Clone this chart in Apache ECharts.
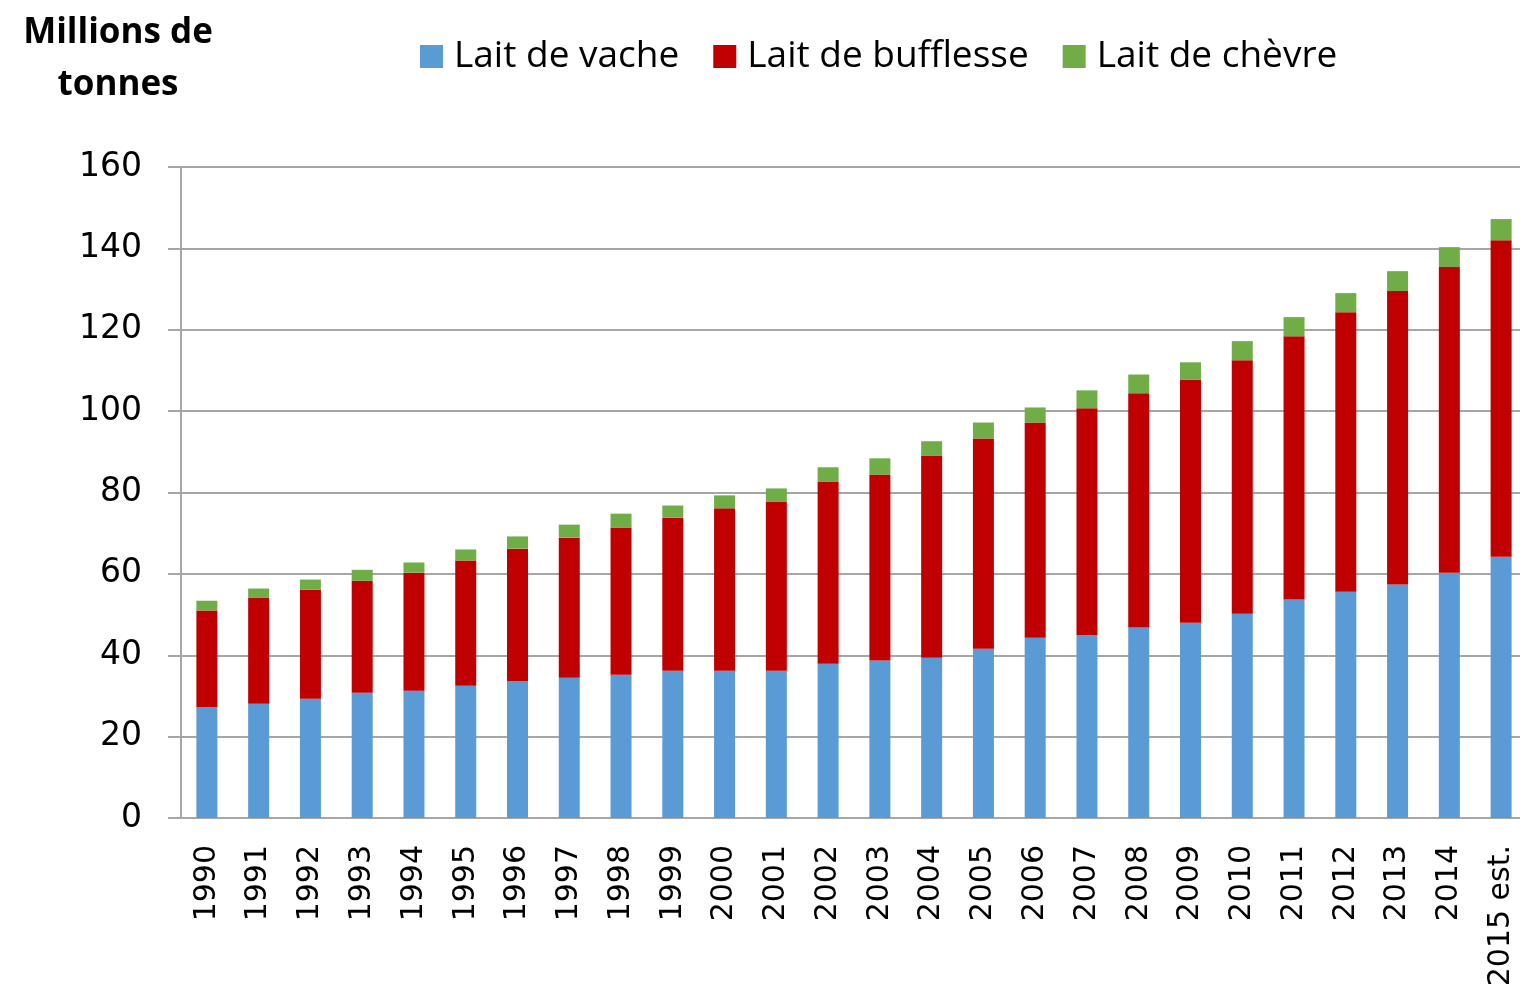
<!DOCTYPE html>
<html>
<head>
<meta charset="utf-8">
<script src="https://cdn.jsdelivr.net/npm/echarts@6/dist/echarts.min.js"></script>
<style>
  html, body { margin: 0; padding: 0; background: #fff; overflow: hidden; }
  #milkChart { width: 1530px; height: 994px; }
</style>
</head>
<body>
<div id="milkChart"></div>
<script>
// années (2015 estimée)
const years = [
  "1990", "1991", "1992", "1993", "1994", "1995", "1996", "1997", "1998",
  "1999", "2000", "2001", "2002", "2003", "2004", "2005", "2006", "2007",
  "2008", "2009", "2010", "2011", "2012", "2013", "2014", "2015 est."
];

// millions de tonnes
const laitVache = [
  27.3, 28.1, 29.3, 30.8, 31.3, 32.5, 33.7, 34.5, 35.2, 36.2, 36.2, 36.2, 37.9,
  38.7, 39.4, 41.6, 44.3, 45.0, 46.8, 48.0, 50.2, 53.7, 55.6, 57.4, 60.3, 64.2
];
const laitBufflesse = [
  23.7, 26.1, 26.8, 27.5, 29.0, 30.8, 32.5, 34.4, 36.2, 37.6, 39.9, 41.6, 44.8,
  45.7, 49.7, 51.7, 52.9, 55.7, 57.6, 59.8, 62.3, 64.7, 68.7, 72.1, 75.1, 77.8
];
const laitChevre = [
  2.4, 2.2, 2.5, 2.7, 2.5, 2.7, 3.0, 3.2, 3.4, 3.0, 3.2, 3.2, 3.5,
  4.0, 3.5, 3.9, 3.7, 4.4, 4.6, 4.2, 4.7, 4.7, 4.7, 4.9, 4.9, 5.2
];

const yTicks = [0, 20, 40, 60, 80, 100, 120, 140, 160];

const chart = echarts.init(document.getElementById("milkChart"));

const barSeries = (name, data, color) => ({
  name: name,
  type: "bar",
  stack: "total",
  barWidth: 21,
  data: data,
  itemStyle: { color: color },
});

const option = {
  animation: false,
  textStyle: { fontFamily: "DejaVu Sans" },
  title: {
    text: "Millions de\ntonnes",
    left: 113,
    top: 2,
    textAlign: "center",
    textStyle: {
      fontFamily: "Open Sans",
      fontWeight: "bold",
      fontSize: 35,
      lineHeight: 52,
      color: "#000",
    },
  },
  legend: {
    left: 415,
    top: 33,
    itemWidth: 23,
    itemHeight: 23,
    itemGap: 34,
    icon: "rect",
    textStyle: {
      fontFamily: "Open Sans",
      fontSize: 37,
      color: "#000",
      padding: [0, 0, 0, 6],
    },
    data: ["Lait de vache", "Lait de bufflesse", "Lait de chèvre"],
  },
  grid: {
    left: 181,
    top: 167,
    right: 3,
    height: 651,
  },
  xAxis: {
    type: "category",
    data: years,
    axisLine: { lineStyle: { color: "#a6a6a6", width: 2 } },
    axisTick: { show: false },
    axisLabel: {
      rotate: 90,
      margin: 27,
      fontFamily: "DejaVu Sans",
      fontSize: 30,
      color: "#000",
      interval: 0,
    },
  },
  yAxis: {
    type: "value",
    min: yTicks[0],
    max: yTicks[yTicks.length - 1],
    interval: 20,
    axisLine: { show: true, lineStyle: { color: "#a6a6a6", width: 2 } },
    axisTick: { show: true, length: 13, lineStyle: { color: "#a6a6a6", width: 2 } },
    splitLine: { lineStyle: { color: "#a6a6a6", width: 2 } },
    axisLabel: {
      margin: 39,
      fontFamily: "DejaVu Sans",
      fontSize: 33,
      color: "#000",
    },
  },
  series: [
    barSeries("Lait de vache", laitVache, "#5b9bd5"),
    barSeries("Lait de bufflesse", laitBufflesse, "#c00000"),
    barSeries("Lait de chèvre", laitChevre, "#70ad47"),
  ],
};

chart.setOption(option);
</script>
</body>
</html>
